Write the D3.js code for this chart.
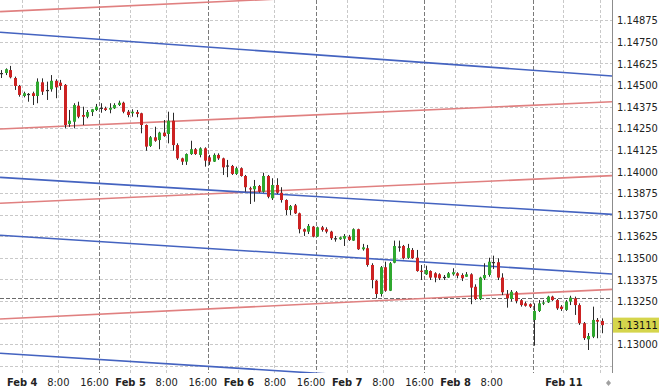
<!DOCTYPE html>
<html><head><meta charset="utf-8">
<script src="https://cdn.jsdelivr.net/npm/d3@7/dist/d3.min.js"></script>
<style>
html,body{margin:0;padding:0;background:#fff;}
svg{display:block;}
text{font-family:"DejaVu Sans Condensed","DejaVu Sans",sans-serif;}
</style></head><body>
<svg id="chart" width="660" height="389"></svg>
<script>
// hourly candles; index = hours since Feb 4 00:00 (weekend removed)
const firstHour = -5;
const open = [
1.14567,1.14570,1.14587,1.14541,1.14495,1.14437,1.14449,1.14453,1.14437,1.14516,
1.14472,1.14476,1.14525,1.14514,1.14501,1.14275,1.14288,1.14381,1.14327,1.14317,
1.14344,1.14356,1.14369,1.14366,1.14358,1.14366,1.14385,1.14398,1.14346,1.14337,
1.14344,1.14337,1.14269,1.14148,1.14198,1.14182,1.14225,1.14217,1.14294,1.14153,
1.14076,1.14057,1.14101,1.14129,1.14096,1.14134,1.14082,1.14057,1.14096,1.14076,
1.14032,1.14032,1.13986,1.14019,1.13974,1.13903,1.13897,1.13916,1.13883,1.13974,
1.13845,1.13922,1.13877,1.13835,1.13777,1.13804,1.13758,1.13666,1.13652,1.13681,
1.13623,1.13677,1.13666,1.13652,1.13614,1.13608,1.13611,1.13623,1.13600,1.13666,
1.13550,1.13556,1.13459,1.13368,1.13291,1.13446,1.13310,1.13472,1.13566,1.13569,
1.13500,1.13546,1.13501,1.13426,1.13405,1.13424,1.13411,1.13405,1.13390,1.13386,
1.13405,1.13411,1.13401,1.13391,1.13405,1.13333,1.13262,1.13382,1.13401,1.13476,
1.13475,1.13386,1.13289,1.13262,1.13301,1.13255,1.13237,1.13232,1.13141,1.13193,
1.13237,1.13243,1.13276,1.13256,1.13218,1.13199,1.13247,1.13266,1.13227,1.13122,
1.13029,1.13044,1.13141,1.13135];
const high = [
1.14587,1.14597,1.14611,1.14549,1.14501,1.14462,1.14454,1.14462,1.14539,1.14539,
1.14520,1.14558,1.14534,1.14530,1.14506,1.14356,1.14395,1.14404,1.14375,1.14356,
1.14362,1.14391,1.14395,1.14375,1.14395,1.14395,1.14410,1.14404,1.14356,1.14360,
1.14356,1.14340,1.14272,1.14205,1.14259,1.14230,1.14298,1.14346,1.14340,1.14163,
1.14080,1.14105,1.14178,1.14136,1.14140,1.14140,1.14096,1.14105,1.14105,1.14080,
1.14067,1.14038,1.14028,1.14024,1.13980,1.13912,1.13951,1.13922,1.13993,1.13980,
1.13961,1.13961,1.13909,1.13839,1.13806,1.13812,1.13762,1.13671,1.13696,1.13685,
1.13681,1.13685,1.13677,1.13657,1.13627,1.13623,1.13638,1.13633,1.13671,1.13669,
1.13581,1.13575,1.13469,1.13372,1.13453,1.13478,1.13476,1.13600,1.13600,1.13575,
1.13581,1.13557,1.13546,1.13459,1.13455,1.13428,1.13417,1.13411,1.13401,1.13418,
1.13440,1.13417,1.13411,1.13418,1.13411,1.13347,1.13391,1.13469,1.13501,1.13513,
1.13498,1.13411,1.13314,1.13314,1.13308,1.13262,1.13247,1.13237,1.13237,1.13256,
1.13256,1.13281,1.13281,1.13262,1.13227,1.13256,1.13281,1.13276,1.13237,1.13129,
1.13065,1.13218,1.13152,1.13150];
const low = [
1.14541,1.14558,1.14539,1.14472,1.14433,1.14429,1.14404,1.14385,1.14395,1.14443,
1.14414,1.14462,1.14424,1.14472,1.14250,1.14258,1.14250,1.14308,1.14269,1.14308,
1.14321,1.14350,1.14340,1.14350,1.14337,1.14362,1.14379,1.14337,1.14314,1.14317,
1.14314,1.14221,1.14120,1.14142,1.14172,1.14129,1.14201,1.14163,1.14120,1.14067,
1.14038,1.14038,1.14096,1.14096,1.14082,1.14028,1.14038,1.14055,1.14067,1.13980,
1.13967,1.13980,1.13980,1.13970,1.13883,1.13812,1.13825,1.13877,1.13877,1.13845,
1.13835,1.13870,1.13820,1.13748,1.13748,1.13754,1.13642,1.13627,1.13638,1.13619,
1.13621,1.13652,1.13642,1.13604,1.13594,1.13604,1.13569,1.13598,1.13598,1.13546,
1.13542,1.13449,1.13324,1.13266,1.13276,1.13304,1.13308,1.13469,1.13536,1.13492,
1.13494,1.13494,1.13420,1.13372,1.13401,1.13372,1.13359,1.13372,1.13372,1.13384,
1.13397,1.13382,1.13366,1.13390,1.13232,1.13256,1.13256,1.13372,1.13391,1.13436,
1.13372,1.13285,1.13212,1.13247,1.13237,1.13218,1.13218,1.13210,1.12992,1.13187,
1.13227,1.13239,1.13251,1.13199,1.13193,1.13193,1.13227,1.13170,1.13112,1.13025,
1.12967,1.13036,1.13035,1.13064];
const close = [
1.14570,1.14592,1.14545,1.14495,1.14443,1.14453,1.14446,1.14437,1.14520,1.14462,
1.14469,1.14525,1.14487,1.14495,1.14269,1.14294,1.14385,1.14317,1.14317,1.14344,
1.14360,1.14375,1.14366,1.14356,1.14368,1.14385,1.14398,1.14346,1.14327,1.14346,
1.14333,1.14269,1.14144,1.14198,1.14178,1.14225,1.14205,1.14294,1.14153,1.14076,
1.14057,1.14101,1.14129,1.14101,1.14134,1.14063,1.14057,1.14096,1.14076,1.14024,
1.14035,1.13986,1.14019,1.13974,1.13909,1.13899,1.13916,1.13883,1.13974,1.13854,
1.13922,1.13877,1.13835,1.13777,1.13800,1.13758,1.13666,1.13652,1.13685,1.13623,
1.13677,1.13662,1.13652,1.13614,1.13611,1.13619,1.13627,1.13604,1.13666,1.13550,
1.13561,1.13459,1.13372,1.13291,1.13446,1.13310,1.13469,1.13569,1.13563,1.13498,
1.13557,1.13498,1.13424,1.13422,1.13430,1.13386,1.13386,1.13382,1.13387,1.13411,
1.13417,1.13397,1.13382,1.13405,1.13328,1.13262,1.13386,1.13401,1.13478,1.13473,
1.13386,1.13301,1.13266,1.13304,1.13251,1.13227,1.13223,1.13218,1.13193,1.13237,
1.13242,1.13276,1.13256,1.13208,1.13204,1.13247,1.13270,1.13227,1.13122,1.13036,
1.13048,1.13141,1.13131,1.13111];

const priceGrid = [1.12875,1.13000,1.13125,1.13250,1.13375,1.13500,1.13625,1.13750,1.13875,1.14000,1.14125,1.14250,1.14375,1.14500,1.14625,1.14750,1.14875];
const priceLabels = [1.13000,1.13250,1.13375,1.13500,1.13625,1.13750,1.13875,1.14000,1.14125,1.14250,1.14375,1.14500,1.14625,1.14750,1.14875];
const timeTicks = [0,8,16,24,32,40,48,56,64,72,80,88,96,104,120];
const timeLabels = ["Feb 4","8:00","16:00","Feb 5","8:00","16:00","Feb 6","8:00","16:00","Feb 7","8:00","16:00","Feb 8","8:00","Feb 11"];
const timeGrid = [0,8,24,32,48,56,72,80,96,104,120,128];
const sessionBreaks = [17.2,41.2,65.2,89.2,113.2];
const refLevel = 1.13266;
const lastPrice = 1.13111;
const trendT = [-4.8,130.8];
const redStart = [1.14925,1.14246,1.13816,1.13146];
const redEnd   = [1.15086,1.14404,1.13976,1.13318];
const blueStart = [1.14806,1.13966,1.13631,1.12948];
const blueEnd   = [1.14553,1.13752,1.13407,1.12725];

const plotRight = 612, plotBottom = 373;
const x = d3.scaleLinear().domain([0,120]).range([21.7,563.4]);
const y = d3.scaleLinear().domain([1.13,1.14875]).range([344.3,20.3]);
const svg = d3.select('#chart');

svg.append('defs').append('clipPath').attr('id','clip')
  .append('rect').attr('x',0).attr('y',0).attr('width',plotRight).attr('height',plotBottom);
const plot = svg.append('g').attr('clip-path','url(#clip)');

const px = v => Math.round(v) + 0.5;

// grid
plot.selectAll('.hg').data(priceGrid).join('line')
  .attr('x1',0).attr('x2',plotRight).attr('y1',d=>px(y(d))).attr('y2',d=>px(y(d)))
  .attr('stroke','#c9c9c9').attr('stroke-width',1).attr('stroke-dasharray','3,2');
plot.selectAll('.vg').data(timeGrid).join('line')
  .attr('x1',d=>px(x(d))).attr('x2',d=>px(x(d))).attr('y1',0).attr('y2',plotBottom)
  .attr('stroke','#c9c9c9').attr('stroke-width',1).attr('stroke-dasharray','3,2');
plot.selectAll('.sb').data(sessionBreaks).join('line')
  .attr('x1',d=>px(x(d))).attr('x2',d=>px(x(d))).attr('y1',0).attr('y2',plotBottom)
  .attr('stroke','#7a7a7a').attr('stroke-width',1).attr('stroke-dasharray','4,2');
plot.append('line')
  .attr('x1',0).attr('x2',plotRight).attr('y1',px(y(refLevel))).attr('y2',px(y(refLevel)))
  .attr('stroke','#6a6a6a').attr('stroke-width',1).attr('stroke-dasharray','4,2');

// trend lines
const lineGen = d3.line().x(d=>x(d[0])).y(d=>y(d[1]));
redStart.forEach((p,k)=>{
  plot.append('path').datum([[trendT[0],p],[trendT[1],redEnd[k]]])
    .attr('d',lineGen).attr('fill','none').attr('stroke','#e08080').attr('stroke-width',1.6);
});
blueStart.forEach((p,k)=>{
  plot.append('path').datum([[trendT[0],p],[trendT[1],blueEnd[k]]])
    .attr('d',lineGen).attr('fill','none').attr('stroke','#4463c0').attr('stroke-width',1.6);
});

// candles
const candles = open.map((o,j)=>({t:firstHour+j,o,h:high[j],l:low[j],c:close[j]}));
const cg = plot.selectAll('.cd').data(candles).join('g');
cg.append('line')
  .attr('x1',d=>Math.round(x(d.t+0.5))+0.5).attr('x2',d=>Math.round(x(d.t+0.5))+0.5)
  .attr('y1',d=>y(Math.max(d.h,d.o,d.c))).attr('y2',d=>y(Math.min(d.l,d.o,d.c)))
  .attr('stroke','#2a2a2a').attr('stroke-width',1);
cg.append('rect')
  .attr('x',d=>Math.round(x(d.t+0.5))-1).attr('width',3)
  .attr('y',d=>Math.min(y(d.o),y(d.c)))
  .attr('height',d=>Math.max(1.2,Math.abs(y(d.o)-y(d.c))))
  .attr('fill',d=>Math.abs(d.c-d.o)<0.00004?'#333':(d.c>d.o?'#2fa82f':'#cc2222'));

// right axis
svg.append('line').attr('x1',plotRight+0.5).attr('x2',plotRight+0.5).attr('y1',0).attr('y2',plotBottom)
  .attr('stroke','#8c8c8c');
const ya = svg.append('g').attr('transform',`translate(${plotRight},0)`)
  .call(d3.axisRight(y).tickValues(priceLabels).tickFormat(d3.format('.5f')).tickSize(0).tickPadding(5));
ya.select('.domain').remove();
ya.selectAll('text').attr('font-size',11).attr('fill','#222')
  .style('font-family','"DejaVu Sans Condensed","DejaVu Sans",sans-serif');

// last price marker
const lp = svg.append('g').attr('transform',`translate(${plotRight+1},${y(lastPrice)})`);
lp.append('rect').attr('x',0).attr('y',-7.5).attr('width',46).attr('height',15).attr('fill','#d5d54c');
lp.append('text').attr('x',4).attr('y',0).attr('dy','0.35em').attr('font-size',11).attr('fill','#111')
  .text(d3.format('.5f')(lastPrice));

// bottom axis labels
const xa = svg.append('g').attr('transform',`translate(0,${plotBottom})`)
  .call(d3.axisBottom(x).tickValues(timeTicks).tickFormat((d,i)=>timeLabels[i]).tickSize(0).tickPadding(5));
xa.select('.domain').remove();
xa.selectAll('text').attr('font-size',11).attr('fill','#222')
  .attr('font-weight',(d,i)=>timeLabels[i].startsWith('Feb')?'bold':'normal')
  .style('font-family','"DejaVu Sans Condensed","DejaVu Sans",sans-serif');

// small corner icon
svg.append('path').attr('d','M608.5,380 L611,383 L608.5,386 L606,383 Z').attr('fill','#a0a0a0');
</script>
</body></html>
